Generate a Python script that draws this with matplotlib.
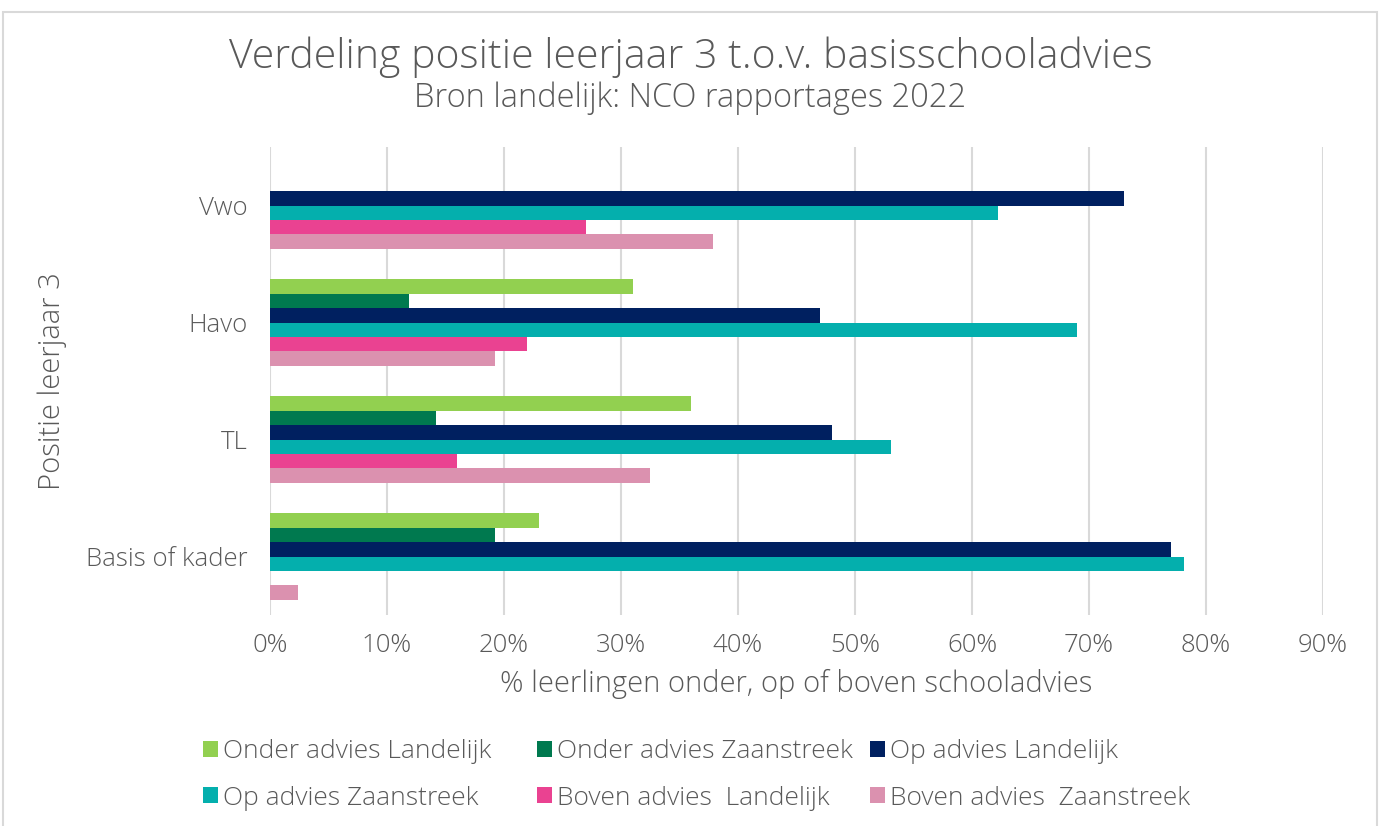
import numpy as np
import matplotlib
matplotlib.use("Agg")
import matplotlib.pyplot as plt
from matplotlib.patches import Rectangle

# Data (percentages)
categorieen = ["Vwo", "Havo", "TL", "Basis of kader"]
reeksen = ["Onder advies Landelijk", "Onder advies Zaanstreek", "Op advies Landelijk",
           "Op advies Zaanstreek", "Boven advies  Landelijk", "Boven advies  Zaanstreek"]
onder_landelijk = [0, 31, 36, 23]
onder_zaanstreek = [0, 11.9, 14.2, 19.2]
op_landelijk = [73, 47, 48, 77]
op_zaanstreek = [62.2, 69, 53.1, 78.1]
boven_landelijk = [27, 22, 16, 0]
boven_zaanstreek = [37.9, 19.2, 32.5, 2.4]
kleuren = ["#92D050", "#00794F", "#002060", "#04AFAD", "#EA4291", "#DB91AF"]

waarden = [onder_landelijk, onder_zaanstreek, op_landelijk,
           op_zaanstreek, boven_landelijk, boven_zaanstreek]

plt.rcParams['font.family'] = ['Open Sans', 'DejaVu Sans']
plt.rcParams['font.weight'] = 'light'
plt.rcParams['axes.labelweight'] = 'light'
tekstkleur = "#595959"

fig = plt.figure(figsize=(13.81, 8.26), dpi=100)
ax = fig.add_axes([0.1955, 0.2554, 0.7625, 0.5666])

# rand rond de figuur
fig.patches.append(Rectangle((3 / 1381, -0.1), 1374 / 1381, 1.1 - 12 / 826,
                             transform=fig.transFigure, fill=False,
                             edgecolor="#d9d9d9", linewidth=1.5))

n = len(reeksen)
hoogte = 0.123
y = np.arange(len(categorieen))
for i, (naam, vals, kleur) in enumerate(zip(reeksen, waarden, kleuren)):
    offset = (i - (n - 1) / 2) * hoogte
    ax.barh(y + offset, vals, height=hoogte, color=kleur, label=naam, zorder=3)

ax.set_ylim(len(categorieen) - 0.5, -0.5)
ax.set_xlim(0, 90)
ax.set_yticks(y)
ax.set_yticklabels(categorieen, fontsize=18.5, color=tekstkleur)
ax.set_xticks(np.arange(0, 91, 10))
ax.set_xticklabels([f"{v}%" for v in range(0, 91, 10)], fontsize=18.5, color=tekstkleur)
ax.tick_params(length=0)
ax.tick_params(axis='x', pad=13)
ax.tick_params(axis='y', pad=16)
ax.grid(axis='x', color="#d9d9d9", linewidth=1.5, zorder=0)
for s in ax.spines.values():
    s.set_visible(False)

ax.set_xlabel("% leerlingen onder, op of boven schooladvies", fontsize=21,
              color=tekstkleur, labelpad=8)
ax.set_ylabel("Positie leerjaar 3", fontsize=21, color=tekstkleur, labelpad=14)

fig.text(0.5, 1 - 57 / 826, "Verdeling positie leerjaar 3 t.o.v. basisschooladvies",
         ha='center', va='center', fontsize=29.5, color=tekstkleur)
fig.text(0.5, 1 - 98 / 826, "Bron landelijk: NCO rapportages 2022",
         ha='center', va='center', fontsize=23.5, color=tekstkleur)

# legenda: drie kolommen met gelijke breedte, zoals in Excel
handles, labels = ax.get_legend_handles_labels()
kolom_x = [203, 537, 870]
for k, x0 in enumerate(kolom_x):
    idx = [k, k + 3]
    leg = fig.legend([handles[i] for i in idx], [labels[i] for i in idx],
                     loc='center left', bbox_to_anchor=(x0 / 1381, 1 - 775 / 826),
                     frameon=False, fontsize=19, labelcolor=tekstkleur,
                     handlelength=0.55, handleheight=0.55, handletextpad=0.2,
                     labelspacing=0.8, borderpad=0, borderaxespad=0)

fig.savefig("out.png", dpi=100)
